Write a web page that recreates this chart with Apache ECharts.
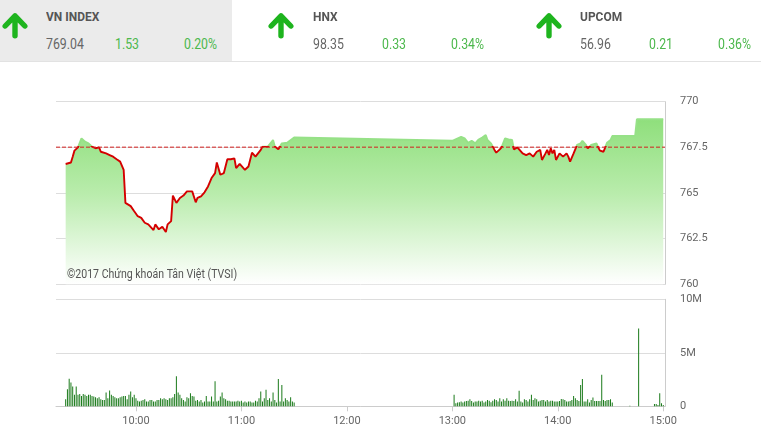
<!DOCTYPE html>
<html><head><meta charset="utf-8">
<script src="https://cdn.jsdelivr.net/npm/echarts@6/dist/echarts.min.js"></script>
<style>
html,body{margin:0;padding:0;background:#fff;}
#wrap{position:relative;width:761px;height:440px;overflow:hidden;font-family:Roboto,"Noto Sans",sans-serif;}
#chart{position:absolute;left:0;top:0;width:761px;height:440px;}
#hdr{position:absolute;left:0;top:0;width:761px;height:61px;border-bottom:1px solid #e2e2e2;}
.panel{position:absolute;top:0;height:61px;width:267px;}
.t{position:absolute;white-space:nowrap;transform-origin:0 50%;line-height:20px;}
.nm{font-weight:bold;font-size:13px;color:#555;top:7px;transform:scaleX(0.92);}
.vl{font-size:14px;color:#666;top:34px;transform:scaleX(0.88);}
.gr{color:#4cb84c;}
svg{position:absolute;left:0;top:0;}
</style></head>
<body><div id="wrap"><div id="chart"></div><div id="hdr"></div></div>
<script>
// ---- header data ----
const indexNames = ['VN INDEX', 'HNX', 'UPCOM'];
const indexValues = ['769.04', '98.35', '56.96'];
const indexChanges = ['1.53', '0.33', '0.21'];
const indexPercents = ['0.20%', '0.34%', '0.36%'];

// ---- price data (VN-Index intraday) ----
const refPrice = 767.51;
const priceTimes = ['09:20','09:21','09:23','09:24','09:25','09:26','09:27','09:29','09:31','09:33','09:35','09:37','09:38','09:39','09:40','09:41','09:43','09:45','09:47','09:49','09:51','09:53','09:54','09:57','09:59','10:01','10:03','10:05','10:07','10:08','10:10','10:11','10:13','10:15','10:17','10:18','10:20','10:21','10:23','10:25','10:27','10:29','10:32','10:34','10:35','10:37','10:39','10:41','10:43','10:45','10:46','10:48','10:50','10:52','10:54','10:56','10:57','10:59','11:02','11:04','11:06','11:08','11:11','11:12','11:15','11:18','11:19','11:21','11:23','11:26','11:30',
'13:00','13:05','13:07','13:09','13:11','13:13','13:15','13:17','13:19','13:20','13:22','13:24','13:25','13:27','13:28','13:30','13:32','13:34','13:35','13:37','13:38','13:40','13:42','13:44','13:46','13:48','13:49','13:50','13:51','13:53','13:54','13:55','13:56','13:57','13:58','13:59','14:01','14:02','14:03','14:05','14:06','14:07','14:09','14:11','14:13','14:14','14:16','14:17','14:19','14:20','14:22','14:23','14:24','14:26','14:27','14:28','14:30','14:31','14:44','14:45','15:00'];
const priceValues = [766.59,766.67,766.67,766.99,767.32,767.39,767.50,767.99,767.81,767.72,767.54,767.45,767.36,767.50,767.26,767.26,767.17,767.08,766.99,766.85,766.72,766.27,764.46,764.28,764.00,763.73,763.64,763.37,763.28,763.37,762.97,763.28,763.01,763.15,762.86,763.28,763.46,764.86,764.46,764.73,764.86,765.09,765.09,764.49,764.73,764.82,765.04,765.36,765.82,766.09,766.67,766.00,766.09,766.85,766.85,766.90,766.36,766.59,766.27,766.45,767.21,766.99,767.36,767.54,767.54,767.90,767.54,767.39,767.72,767.75,768.04,
767.86,768.08,767.99,767.75,767.86,767.72,767.93,768.04,768.17,767.90,767.72,767.36,767.21,767.39,767.50,767.99,767.93,767.90,767.39,767.50,767.39,767.17,767.08,767.17,766.99,767.26,767.17,767.36,766.81,767.17,767.36,767.08,767.45,767.17,767.36,766.81,767.17,767.08,766.99,767.17,766.99,766.72,767.17,767.63,767.72,767.86,767.63,767.45,767.63,767.54,767.72,767.50,767.32,767.26,767.50,767.75,767.90,768.12,768.12,769.04,769.04];

// ---- volume data (millions of shares per minute) ----
const volMorningStart = '09:20';
const volMorning = [0.66,1.60,2.58,2.23,1.86,1.07,1.86,1.07,1.16,0.97,1.16,1.07,0.97,
1.07,1.07,0.97,0.91,0.85,0.75,0.85,0.66,0.60,0.60,1.29,0.75,1.48,1.07,0.97,0.85,0.75,
0.75,0.85,0.91,0.97,0.97,0.66,1.07,1.38,0.85,1.07,0.75,0.53,0.44,0.53,0.60,0.66,0.44,0.44,
0.60,0.60,0.44,0.44,0.60,0.60,0.75,0.66,0.75,0.66,0.60,0.75,0.75,0.85,1.16,
2.80,
1.29,1.07,0.75,0.60,
0.44,0.85,0.75,1.23,0.97,0.91,0.53,0.60,0.44,0.60,0.35,0.44,0.97,0.44,0.44,0.91,0.44,2.33,0.44,0.53,0.91,1.29,0.75,0.66,0.53,0.53,0.44,0.44,0.44,0.44,0.53,0.44,0.53,
0.35,0.44,0.35,0.44,0.44,0.35,0.35,0.53,0.44,0.75,1.38,0.44,0.75,1.54,0.60,0.75,0.44,1.29,0.60,0.35,2.55,0.44,2.00,0.44,0.75,0.60,0.44,0.85,0.44,
0.35];
const volAfternoonStart = '13:01';
const volAfternoon = [1.07,0.28,0.35,0.38,0.44,0.35,0.44,0.50,0.53,0.66,0.50,0.35,
0.44,0.44,0.53,0.44,0.53,0.35,0.44,0.60,
0.53,0.38,0.53,0.66,0.60,0.44,0.75,0.44,0.66,0.53,0.75,0.53,0.50,0.53,0.50,0.66,0.44,1.45,0.44,0.35,0.66,0.60,0.44,0.66,1.07,
0.60,0.75,0.66,0.44,0.53,0.60,0.60,0.44,0.60,0.44,0.53,0.53,0.44,
0.44,0.44,0.50,0.69,0.66,0.60,0.44,0.44,0.50,0.60,0.97,0.75,0.60,0.50,2.00,2.55,0.44,0.44,0.66,0.35,0.60,0.82,0.50,0.50,0.50,0.50,2.96,0.60,0.50,0.60,0.60,0.66,0.35];
const volAtcTimes = ['14:41','14:46','14:55','14:56','14:57','14:58','14:59','15:00'];
const volAtc = [0.06,7.26,0.22,0.22,0.13,1.23,0.28,0.13];

const hourTickLabels = ['10:00','11:00','12:00','13:00','14:00','15:00'];
const copyrightText = '©2017 Chứng khoán Tân Việt (TVSI)';

// ---- helpers ----
function tm(s){const p=s.split(':');return (+p[0])*60+(+p[1]);}
function fmt(v){const h=Math.floor(v/60),m=Math.round(v%60);return h+':'+(m<10?'0':'')+m;}

// ---- header ----
const hdr = document.getElementById('hdr');
const arrowSvg = '<svg width="32" height="44"><path d="M5.2 26 L15 15.8 L24.8 26 M15 16.5 L15 35.8" fill="none" stroke="#1eb41e" stroke-width="5.4" stroke-linecap="round" stroke-linejoin="round"/></svg>';
const panelLeft = [0, 267, 534];
indexNames.forEach((n, i) => {
  const d = document.createElement('div');
  d.className = 'panel';
  d.style.left = panelLeft[i] + 'px';
  if (i === 0) { d.style.background = '#ebebeb'; d.style.width = '232px'; }
  d.innerHTML = '<div style="position:absolute;left:' + (i===1?-1:0) + 'px;top:0">' + arrowSvg + '</div>' +
    '<div class="t nm" style="left:46px">' + n + '</div>' +
    '<div class="t vl" style="left:46px">' + indexValues[i] + '</div>' +
    '<div class="t vl gr" style="left:115px">' + indexChanges[i] + '</div>' +
    '<div class="t vl gr" style="left:184px">' + indexPercents[i] + '</div>';
  hdr.appendChild(d);
});

// ---- chart ----
const xMin = 554.5, xMax = 901;
const priceData = priceTimes.map((t, i) => [tm(t), priceValues[i]]);
const volData = [];
volMorning.forEach((v, i) => volData.push([tm(volMorningStart) + i, v]));
volAfternoon.forEach((v, i) => volData.push([tm(volAfternoonStart) + i, v]));
volAtc.forEach((v, i) => volData.push([tm(volAtcTimes[i]), v]));
const hourTicks = hourTickLabels.map(tm);

// line colour: green above the reference price, red below (hard stop inside line's bbox)
const pMax = Math.max.apply(null, priceValues), pMin = Math.min.apply(null, priceValues);
const stop = (pMax - refPrice) / (pMax - pMin);
const lineGrad = new echarts.graphic.LinearGradient(0, 0, 0, 1, [
  {offset: 0, color: 'rgba(150,225,135,1)'}, {offset: stop, color: 'rgba(150,225,135,1)'},
  {offset: stop, color: '#d40000'}, {offset: 1, color: '#d40000'}]);

const chart = echarts.init(document.getElementById('chart'), null, {renderer: 'canvas'});
chart.setOption({
  animation: false,
  textStyle: {fontFamily: 'Roboto'},
  grid: [
    {left: 56, top: 101.7, width: 609, height: 182.6},
    {left: 56, top: 299.3, width: 609, height: 107}
  ],
  xAxis: [
    {gridIndex: 0, type: 'value', min: xMin, max: xMax,
     axisLine: {show: false}, axisTick: {show: false}, axisLabel: {show: false}, splitLine: {show: false}},
    {gridIndex: 1, type: 'value', min: xMin, max: xMax,
     axisLine: {show: true, lineStyle: {color: '#cccccc'}},
     axisTick: {show: true, customValues: hourTicks, length: 5, lineStyle: {color: '#cccccc'}},
     axisLabel: {customValues: hourTicks, formatter: v => fmt(v), color: '#666', fontSize: 11, margin: 9},
     splitLine: {show: false}}
  ],
  yAxis: [
    {gridIndex: 0, type: 'value', position: 'right', min: 760, max: 770, interval: 2.5,
     axisLine: {show: true, lineStyle: {color: '#cccccc'}}, axisTick: {show: false},
     axisLabel: {color: '#666', fontSize: 11, margin: 15},
     splitLine: {lineStyle: {color: '#dddddd'}}},
    {gridIndex: 1, type: 'value', position: 'right', min: 0, max: 10, interval: 5,
     axisLine: {show: true, lineStyle: {color: '#cccccc'}}, axisTick: {show: false},
     axisLabel: {color: '#666', fontSize: 11, margin: 15, formatter: v => v === 0 ? '0' : v + 'M'},
     splitLine: {lineStyle: {color: '#dddddd'}}}
  ],
  series: [
    {type: 'line', xAxisIndex: 0, yAxisIndex: 0, data: priceData, showSymbol: false, z: 3,
     lineStyle: {width: 1.9, color: lineGrad},
     areaStyle: {origin: 'start', opacity: 1,
       color: new echarts.graphic.LinearGradient(0, 0, 0, 1, [
         {offset: 0, color: '#8fdf7c'}, {offset: 0.45, color: '#b9ecac'}, {offset: 1, color: '#ffffff'}])}},
    {type: 'line', xAxisIndex: 0, yAxisIndex: 0, data: [[xMin, refPrice], [xMax, refPrice]],
     showSymbol: false, silent: true, z: 4,
     lineStyle: {color: '#d42020', type: [4, 2], width: 1}},
    {type: 'bar', xAxisIndex: 1, yAxisIndex: 1, data: volData, barWidth: 1,
     itemStyle: {color: '#1a7a1a'}}
  ],
  graphic: [
    {type: 'text', x: 67, y: 275, scaleX: 0.88, z: 10,
     style: {x: 0, y: 0, text: copyrightText, fill: '#555', font: '12px Roboto', verticalAlign: 'middle'}}
  ]
});
</script></body></html>
